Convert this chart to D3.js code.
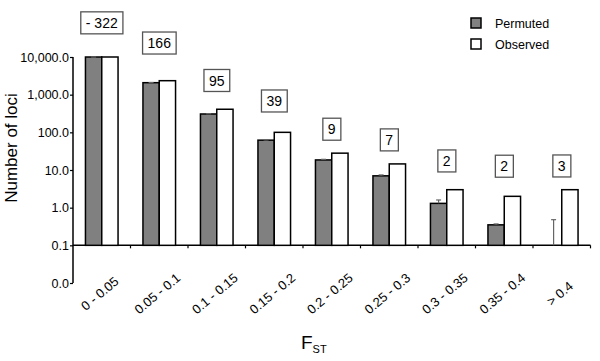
<!DOCTYPE html>
<html>
<head>
<meta charset="utf-8">
<script src="https://cdn.jsdelivr.net/npm/d3@7"></script>
<style>
  body { margin: 0; background: #fff; }
  svg { display: block; font-family: "Liberation Sans", Arial, Helvetica, sans-serif; }
</style>
</head>
<body>
<div id="chart"></div>
<script>
// FST bins and counts
var categories = ["0 - 0.05", "0.05 - 0.1", "0.1 - 0.15", "0.15 - 0.2", "0.2 - 0.25",
                  "0.25 - 0.3", "0.3 - 0.35", "0.35 - 0.4", "> 0.4"];
var permuted = [10000, 2080, 307, 62, 18.5, 7.0, 1.3, 0.35, 0.1];
var permutedErr = [10000, 2100, 312, 63, 19.2, 7.4, 1.6, 0.37, 0.48];
var observed = [10000, 2350, 410, 100, 28, 14.5, 3, 2, 3];
var boxLabels = ["- 322", "166", "95", "39", "9", "7", "2", "2", "3"];
// where each boxed number sits, in data units
var boxAt = [80700, 23500, 2380, 680, 121, 63, 17.4, 12.6, 12.8];
var yTicks = [0.01, 0.1, 1, 10, 100, 1000, 10000];
var series = ["Permuted", "Observed"];

var width = 600, height = 361;
var svg = d3.select('#chart').append('svg')
    .attr('width', width)
    .attr('height', height);

var x = d3.scaleBand().domain(categories).range([73, 590.5]).padding(0);
var y = d3.scaleLog().domain([0.01, 10000]).range([283, 57]);
var base = y(0.1);
var barW = 16.3;

// y axis
var yAxis = d3.axisLeft(y)
    .tickValues(yTicks)
    .tickFormat(d3.format(',.1f'))
    .tickSize(3)
    .tickPadding(1);
var gy = svg.append('g').attr('transform', 'translate(73,0)').call(yAxis);
gy.select('.domain').attr('stroke', '#000').attr('stroke-width', 1.5).attr('d', 'M0,57V283');
gy.selectAll('.tick line').attr('stroke', '#000').attr('stroke-width', 1.2);
gy.selectAll('.tick text').attr('font-size', 12.5).attr('fill', '#000').attr('font-family', null);

// x baseline with ticks at bin edges
svg.append('line')
    .attr('x1', 73).attr('x2', 590.5)
    .attr('y1', base).attr('y2', base)
    .attr('stroke', '#000').attr('stroke-width', 1.5);
svg.selectAll('.xtick').data(categories).enter().append('line')
    .attr('class', 'xtick')
    .attr('x1', function(d) { return x(d) + x.bandwidth(); })
    .attr('x2', function(d) { return x(d) + x.bandwidth(); })
    .attr('y1', base).attr('y2', base + 3)
    .attr('stroke', '#000').attr('stroke-width', 1.2);

// bars
var cx = function(i) { return x(categories[i]) + x.bandwidth() / 2; };

svg.selectAll('.perm').data(permuted).enter().append('rect')
    .attr('class', 'perm')
    .attr('x', function(d, i) { return cx(i) - barW; })
    .attr('y', function(d) { return y(d); })
    .attr('width', barW)
    .attr('height', function(d) { return base - y(d); })
    .attr('fill', '#808080')
    .attr('stroke', '#000').attr('stroke-width', 1.5);

svg.selectAll('.obs').data(observed).enter().append('rect')
    .attr('class', 'obs')
    .attr('x', function(d, i) { return cx(i); })
    .attr('y', function(d) { return y(d); })
    .attr('width', barW)
    .attr('height', function(d) { return base - y(d); })
    .attr('fill', '#fff')
    .attr('stroke', '#000').attr('stroke-width', 1.5);

// upper error bars on permuted
var err = svg.selectAll('.err').data(permutedErr).enter().append('g').attr('class', 'err');
err.append('line')
    .attr('x1', function(d, i) { return cx(i) - barW / 2; })
    .attr('x2', function(d, i) { return cx(i) - barW / 2; })
    .attr('y1', function(d, i) { return y(permuted[i]); })
    .attr('y2', function(d) { return y(d); })
    .attr('stroke', '#666').attr('stroke-width', 1.2);
err.append('line')
    .attr('x1', function(d, i) { return cx(i) - barW / 2 - 2.5; })
    .attr('x2', function(d, i) { return cx(i) - barW / 2 + 2.5; })
    .attr('y1', function(d) { return y(d); })
    .attr('y2', function(d) { return y(d); })
    .attr('stroke', '#666').attr('stroke-width', 1.2);

// boxed counts
var box = svg.selectAll('.box').data(boxLabels).enter().append('g')
    .attr('class', 'box')
    .attr('transform', function(d, i) { return 'translate(' + cx(i) + ',' + y(boxAt[i]) + ')'; });
box.append('text')
    .attr('text-anchor', 'middle')
    .attr('dy', '0.36em')
    .attr('font-size', 14)
    .text(function(d) { return d; });
box.each(function() {
  var g = d3.select(this);
  var bb = g.select('text').node().getBBox();
  g.insert('rect', 'text')
      .attr('x', bb.x - 5).attr('y', -11)
      .attr('width', bb.width + 10).attr('height', 22)
      .attr('fill', '#fff')
      .attr('stroke', '#555').attr('stroke-width', 1.3);
});

// rotated category labels
svg.selectAll('.xlab').data(categories).enter().append('text')
    .attr('class', 'xlab')
    .attr('text-anchor', 'middle')
    .attr('font-size', 13)
    .attr('transform', function(d, i) { return 'translate(' + (cx(i) + 1) + ',' + 297 + ') rotate(-40)'; })
    .text(function(d) { return d; });

// axis titles
svg.append('text')
    .attr('transform', 'translate(17,148) rotate(-90)')
    .attr('text-anchor', 'middle')
    .attr('font-size', 17)
    .text('Number of loci');

var xt = svg.append('text')
    .attr('x', 301)
    .attr('y', 349)
    .attr('font-size', 19);
xt.append('tspan').text('F');
xt.append('tspan').attr('font-size', 11).attr('dy', 4).text('ST');

// legend
var leg = svg.selectAll('.leg').data(series).enter().append('g')
    .attr('class', 'leg')
    .attr('transform', function(d, i) { return 'translate(471,' + (18 + i * 21) + ')'; });
leg.append('rect')
    .attr('width', 10).attr('height', 10)
    .attr('fill', function(d, i) { return i === 0 ? '#808080' : '#fff'; })
    .attr('stroke', '#000').attr('stroke-width', 1.5);
leg.append('text')
    .attr('x', 24).attr('y', 9.5)
    .attr('font-size', 12.5)
    .text(function(d) { return d; });
</script>
</body>
</html>
